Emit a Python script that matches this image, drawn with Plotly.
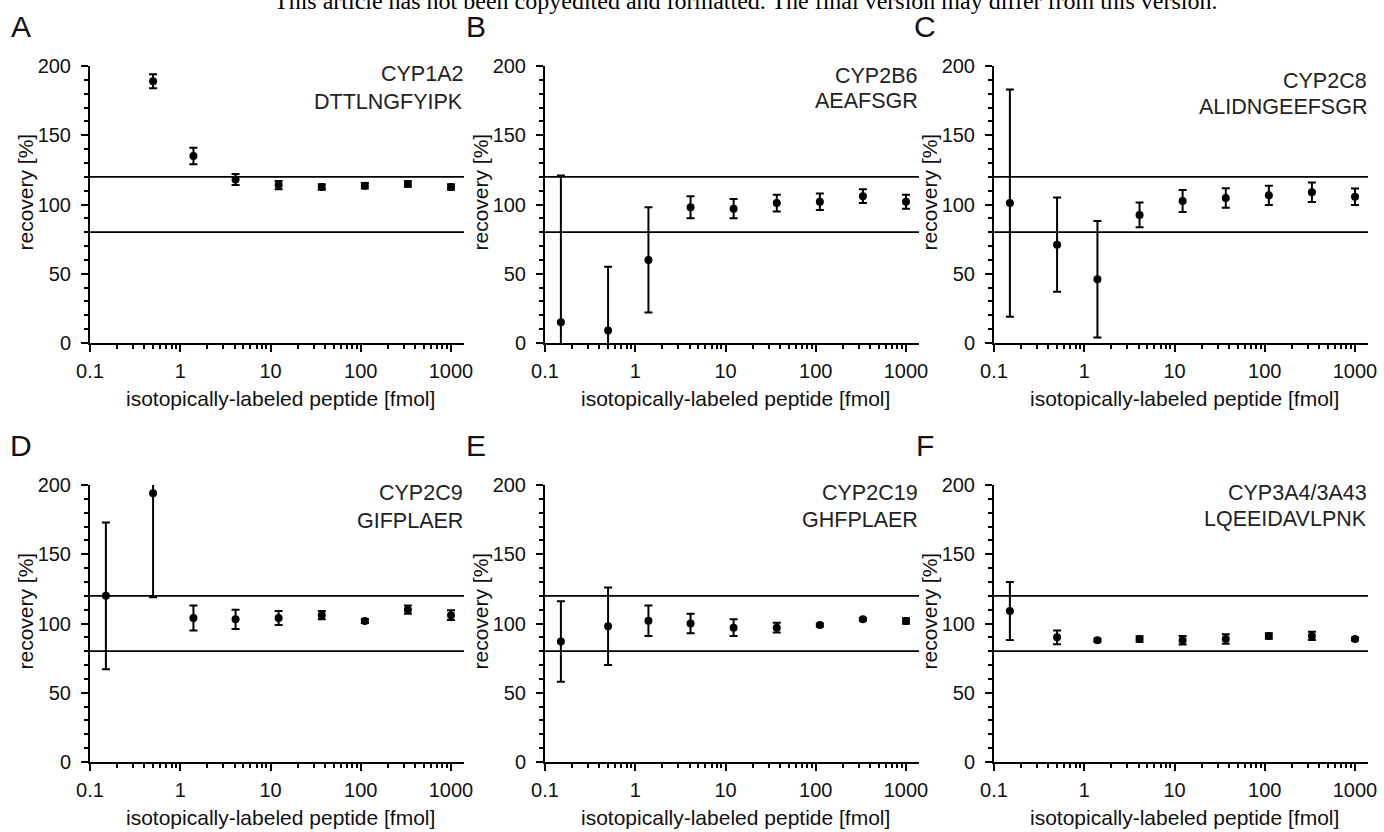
import plotly.graph_objects as go

W, H = 1384, 832

# Spiked amount of isotopically-labeled peptide (fmol), 3-fold dilution series
conc = [0.15, 0.5, 1.4, 4.1, 12.3, 37, 111, 333, 1000]

panel_letters = ["A", "B", "C", "D", "E", "F"]
proteins = ["CYP1A2", "CYP2B6", "CYP2C8", "CYP2C9", "CYP2C19", "CYP3A4/3A43"]
peptides = ["DTTLNGFYIPK", "AEAFSGR", "ALIDNGEEFSGR", "GIFPLAER", "GHFPLAER", "LQEEIDAVLPNK"]

# Mean recovery [%] and SD per amount
rec_A = [None, 189, 135, 118, 114, 112.6, 113.6, 114.8, 112.6]
sd_A = [None, 5, 6, 4, 3, 2, 2, 2, 2]
rec_B = [15, 9, 60, 98, 97, 101, 102, 106, 102]
sd_B = [106, 46, 38, 8, 7, 6, 6, 5, 5]
rec_C = [101, 71, 46, 92.5, 102.5, 104.7, 106.6, 108.8, 105.6]
sd_C = [82, 34, 42, 9, 8, 7, 7, 7, 6]
rec_D = [120, 194, 104, 103, 104, 106, 101.8, 110, 106]
sd_D = [53, 75, 9, 7, 5, 3, 1.5, 3, 3.5]
rec_E = [87, 98, 102, 100, 97, 97, 98.9, 103, 101.8]
sd_E = [29, 28, 11, 7, 6, 3.5, 1, 1, 2]
rec_F = [109, 90, 87.9, 88.8, 87.9, 88.8, 91, 91, 88.8]
sd_F = [21, 5, 1, 2, 3, 3.5, 2, 3, 1]

recoveries = [rec_A, rec_B, rec_C, rec_D, rec_E, rec_F]
sds = [sd_A, sd_B, sd_C, sd_D, sd_E, sd_F]

# Acceptance limits for recovery [%]
lower_limit = 80
upper_limit = 120

FONT = "Liberation Sans, Arial, Helvetica, sans-serif"
INK = "#111111"


def fx(p):
    return p / W


def fy(p):
    return 1 - p / H


# Pixel frame of each panel: (left, right, top, bottom)
col_px = [(90, 464), (545, 919), (994, 1368)]
row_px = [(66, 343), (485, 762)]
peptide_rows = [(74, 102), (76, 101), (81, 107), (493, 521), (493, 520), (493, 519)]

fig = go.Figure()
annotations = []
shapes = []

for i in range(6):
    r, c = divmod(i, 3)
    x0, x1 = col_px[c]
    y0, y1 = row_px[r]
    sfx = "" if i == 0 else str(i + 1)
    xa, ya = "x" + sfx, "y" + sfx

    fig.add_trace(go.Scatter(
        x=conc, y=recoveries[i], mode="markers", xaxis=xa, yaxis=ya,
        marker=dict(color="black", size=8),
        error_y=dict(type="data", array=sds[i], visible=True, color="black",
                     thickness=2, width=4),
        showlegend=False, hoverinfo="x+y",
    ))

    fig.layout["xaxis" + sfx] = dict(
        domain=[fx(x0), fx(x1)], anchor=ya, type="log", automargin=False,
        range=[-1, 3.144], tickmode="linear", tick0=0, dtick=1,
        ticks="outside", ticklen=7, tickwidth=2, tickcolor="black",
        showline=True, linecolor="black", linewidth=2,
        showgrid=False, zeroline=False,
        tickfont=dict(family=FONT, size=20, color=INK),
        ticklabelstandoff=2,
        minor=dict(dtick="D1", ticks="outside", ticklen=4, tickwidth=1.5,
                   tickcolor="black", showgrid=False),
        fixedrange=True,
    )
    fig.layout["yaxis" + sfx] = dict(
        domain=[fy(y1), fy(y0)], anchor=xa, range=[0, 200], automargin=False,
        tickvals=[0, 50, 100, 150, 200],
        ticks="outside", ticklen=7, tickwidth=2, tickcolor="black",
        showline=True, linecolor="black", linewidth=2,
        showgrid=False, zeroline=False,
        tickfont=dict(family=FONT, size=20, color=INK),
        ticklabelstandoff=6,
        minor=dict(dtick=10, ticks="outside", ticklen=4, tickwidth=1.5,
                   tickcolor="black", showgrid=False),
        fixedrange=True,
    )

    for lim in (lower_limit, upper_limit):
        shapes.append(dict(type="line", xref=xa + " domain", yref=ya,
                           x0=0, x1=1, y0=lim, y1=lim,
                           line=dict(color="black", width=1.8)))

    # panel letter
    annotations.append(dict(text=panel_letters[i], xref="paper", yref="paper",
                            x=fx(x0 - 69), y=fy(y0 - 40), xanchor="center",
                            yanchor="middle", showarrow=False,
                            font=dict(family=FONT, size=30, color=INK)))
    # protein / peptide label
    t1, t2 = peptide_rows[i]
    annotations.append(dict(text=proteins[i], xref="paper", yref="paper",
                            x=fx(x1 + 1), y=fy(t1), xanchor="right", yanchor="middle",
                            showarrow=False, font=dict(family=FONT, size=21.5, color="#222222")))
    annotations.append(dict(text=peptides[i], xref="paper", yref="paper",
                            x=fx(x1 + 1), y=fy(t2), xanchor="right", yanchor="middle",
                            showarrow=False, font=dict(family=FONT, size=21.5, color="#222222")))
    # axis titles
    annotations.append(dict(text="isotopically-labeled peptide [fmol]", xref="paper",
                            yref="paper", x=fx((x0 + x1) / 2 + 3), y=fy(y1 + 55),
                            xanchor="center", yanchor="middle", showarrow=False,
                            font=dict(family=FONT, size=21, color=INK)))
    annotations.append(dict(text="recovery [%]", xref="paper", yref="paper",
                            x=fx(x0 - 65), y=fy((y0 + y1) / 2 - 12), textangle=-90,
                            xanchor="center", yanchor="middle", showarrow=False,
                            font=dict(family=FONT, size=21, color=INK)))

annotations.append(dict(
    text="This article has not been copyedited and formatted. The final version may differ from this version.",
    xref="paper", yref="paper", x=fx(746), y=fy(16), xanchor="center", yanchor="bottom",
    showarrow=False, font=dict(family="Liberation Serif, Times New Roman, serif", size=24, color="black")))

fig.update_layout(
    template="none",
    width=W, height=H, margin=dict(l=0, r=0, t=0, b=0, autoexpand=False),
    paper_bgcolor="white", plot_bgcolor="white",
    annotations=annotations, shapes=shapes, showlegend=False,
)

fig.write_html("out.html", config={"displayModeBar": False},
               post_script="document.body.style.margin = '0';")
